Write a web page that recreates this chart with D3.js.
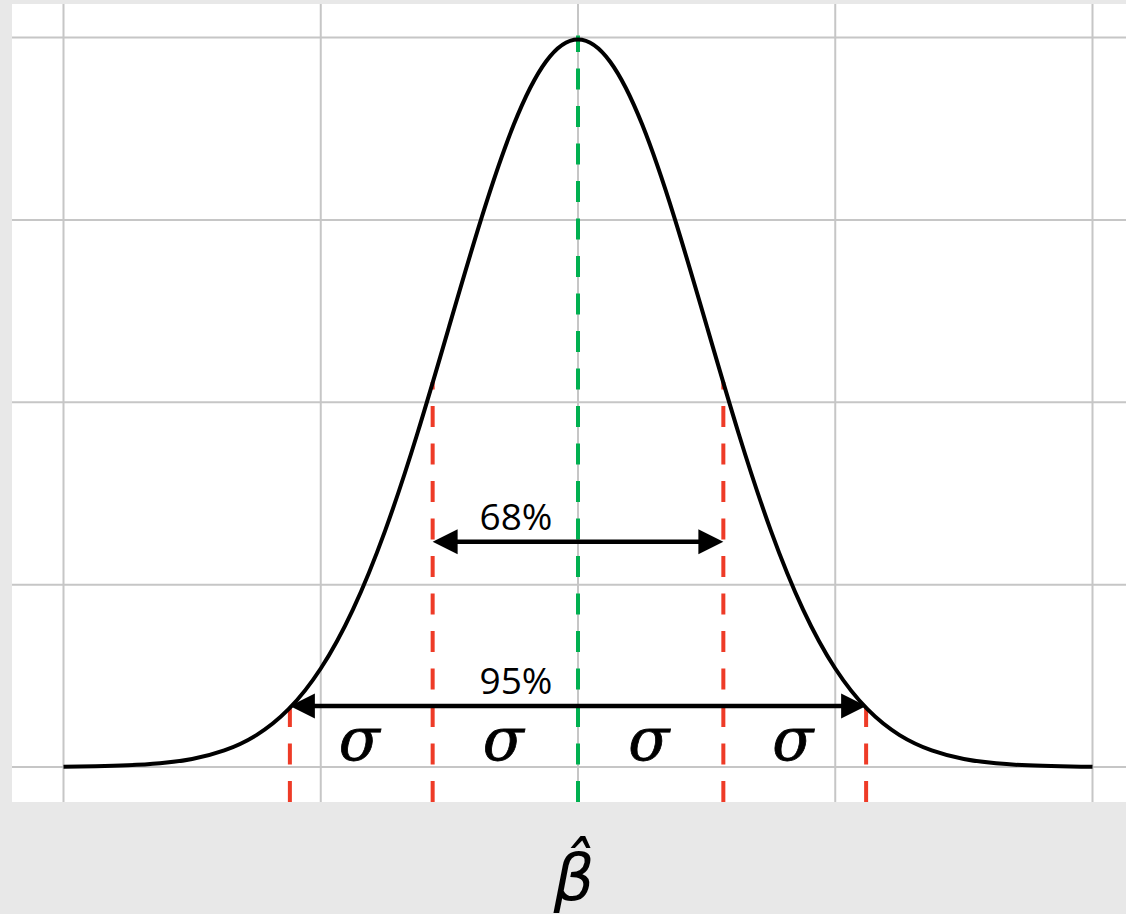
<!DOCTYPE html>
<html>
<head>
<meta charset="utf-8">
<script src="https://cdn.jsdelivr.net/npm/d3@7"></script>
<style>
    body { margin: 0; background: #e8e8e8; }
    svg { display: block; }
</style>
</head>
<body>
<div id="chart"></div>
<script>
// density curve (x in sigma units, y = height)
const curveX = [-4, -3.75, -3.5, -3.25, -3, -2.75, -2.5, -2.25, -2, -1.75, -1.5, -1.25, -1, -0.75, -0.5, -0.25,
    0, 0.25, 0.5, 0.75, 1, 1.25, 1.5, 1.75, 2, 2.25, 2.5, 2.75, 3, 3.25, 3.5, 3.75, 4];
const curveY = [0.0001, 0.0004, 0.0009, 0.0020, 0.0044, 0.0091, 0.0175, 0.0317, 0.0540, 0.0863, 0.1295, 0.1826,
    0.2420, 0.3011, 0.3521, 0.3867, 0.3989, 0.3867, 0.3521, 0.3011, 0.2420, 0.1826, 0.1295, 0.0863, 0.0540,
    0.0317, 0.0175, 0.0091, 0.0044, 0.0020, 0.0009, 0.0004, 0.0001];

const xTicks = [-4, -2, 0, 2, 4];
const yTicks = [0, 0.1, 0.2, 0.3, 0.4];

// red interval markers and the centre line
const markX = [-2.24, -1.13, 1.13, 2.24];
const centerX = 0;

// interval arrows
const arrowLabels = ['68%', '95%'];
const arrowFrom = [-1.13, -2.24];
const arrowTo = [1.13, 2.24];
const arrowLevel = [0.1235, 0.0335];

const sigmaLabel = 'σ';
const axisLabel = '\u03B2\u0302';

const W = 1126, H = 914;
const plot = { left: 12, top: 4, right: 1126, bottom: 802 };

const x = d3.scaleLinear().domain([-4, 4]).range([63.5, 1092.5]);
const y = d3.scaleLinear().domain([0, 0.4]).range([767, 37.5]);

const svg = d3.select('#chart')
    .append('svg')
    .attr('width', W)
    .attr('height', H);

svg.append('rect')
    .attr('width', W).attr('height', H)
    .attr('fill', '#e8e8e8');

svg.append('rect')
    .attr('x', plot.left).attr('y', plot.top)
    .attr('width', plot.right - plot.left)
    .attr('height', plot.bottom - plot.top)
    .attr('fill', '#fff');

// grid
const grid = svg.append('g').attr('stroke', '#c6c6c6').attr('stroke-width', 2);
grid.selectAll('.vg').data(xTicks).enter().append('line')
    .attr('class', 'vg')
    .attr('x1', d => x(d)).attr('x2', d => x(d))
    .attr('y1', plot.top).attr('y2', plot.bottom);
grid.selectAll('.hg').data(yTicks).enter().append('line')
    .attr('class', 'hg')
    .attr('x1', plot.left).attr('x2', plot.right)
    .attr('y1', d => y(d)).attr('y2', d => y(d));

// height of the curve at any x (linear between read points)
function curveAt(v) {
    const i = Math.max(1, Math.min(curveX.length - 1, d3.bisectLeft(curveX, v)));
    const t = (v - curveX[i - 1]) / (curveX[i] - curveX[i - 1]);
    return curveY[i - 1] + t * (curveY[i] - curveY[i - 1]);
}

// dashed verticals, drawn bottom-up so the dash phase matches
const dashes = svg.append('g')
    .attr('stroke-width', 4)
    .attr('stroke-dasharray', '21 16.5');

dashes.selectAll('.mark').data(markX).enter().append('line')
    .attr('class', 'mark')
    .attr('stroke', '#ee3b27')
    .attr('x1', d => x(d)).attr('x2', d => x(d))
    .attr('y1', plot.bottom).attr('y2', d => y(curveAt(d)));

dashes.append('line')
    .attr('stroke', '#00b050')
    .attr('x1', x(centerX)).attr('x2', x(centerX))
    .attr('y1', plot.bottom).attr('y2', y(0.4) - 2);

// the curve
const line = d3.line()
    .x((d, i) => x(curveX[i]))
    .y(d => y(d))
    .curve(d3.curveNatural);

svg.append('path')
    .datum(curveY)
    .attr('d', line)
    .attr('fill', 'none')
    .attr('stroke', '#000')
    .attr('stroke-width', 4)
    .attr('stroke-linejoin', 'round');

// arrows
const headL = 25, headW = 12.5;
const arrows = svg.append('g');
arrowLabels.forEach((label, i) => {
    const x1 = x(arrowFrom[i]), x2 = x(arrowTo[i]), ay = y(arrowLevel[i]);
    arrows.append('line')
        .attr('x1', x1 + headL - 2).attr('x2', x2 - headL + 2)
        .attr('y1', ay).attr('y2', ay)
        .attr('stroke', '#000').attr('stroke-width', 4.5);
    arrows.append('path')
        .attr('d', `M${x1},${ay}L${x1 + headL},${ay - headW}L${x1 + headL},${ay + headW}Z`)
        .attr('fill', '#000');
    arrows.append('path')
        .attr('d', `M${x2},${ay}L${x2 - headL},${ay - headW}L${x2 - headL},${ay + headW}Z`)
        .attr('fill', '#000');
    arrows.append('text')
        .text(label)
        .attr('x', (x1 + x2) / 2 - 62)
        .attr('y', ay - 12)
        .attr('text-anchor', 'middle')
        .style('font-family', '"Open Sans", sans-serif')
        .style('font-size', '37px')
        .attr('fill', '#000');
});

// sigma labels between neighbouring markers
const bounds = [markX[0], markX[1], centerX, markX[2], markX[3]];
svg.selectAll('.sigma').data(d3.pairs(bounds)).enter().append('text')
    .attr('class', 'sigma')
    .text(sigmaLabel)
    .attr('x', d => x((d[0] + d[1]) / 2) - 2)
    .attr('y', y(0) - 7)
    .attr('text-anchor', 'middle')
    .style('font-family', '"DejaVu Serif", serif')
    .style('font-style', 'italic')
    .style('font-size', '60px')
    .attr('fill', '#000')
    .attr('stroke', '#000')
    .attr('stroke-width', 0.8);

// axis label, beta with combining hat
svg.append('text')
    .text(axisLabel)
    .attr('x', x(centerX) - 4)
    .attr('y', 900)
    .attr('text-anchor', 'middle')
    .style('font-family', '"DejaVu Sans", sans-serif')
    .style('font-style', 'oblique')
    .style('font-size', '64px')
    .attr('fill', '#000');
</script>
</body>
</html>
